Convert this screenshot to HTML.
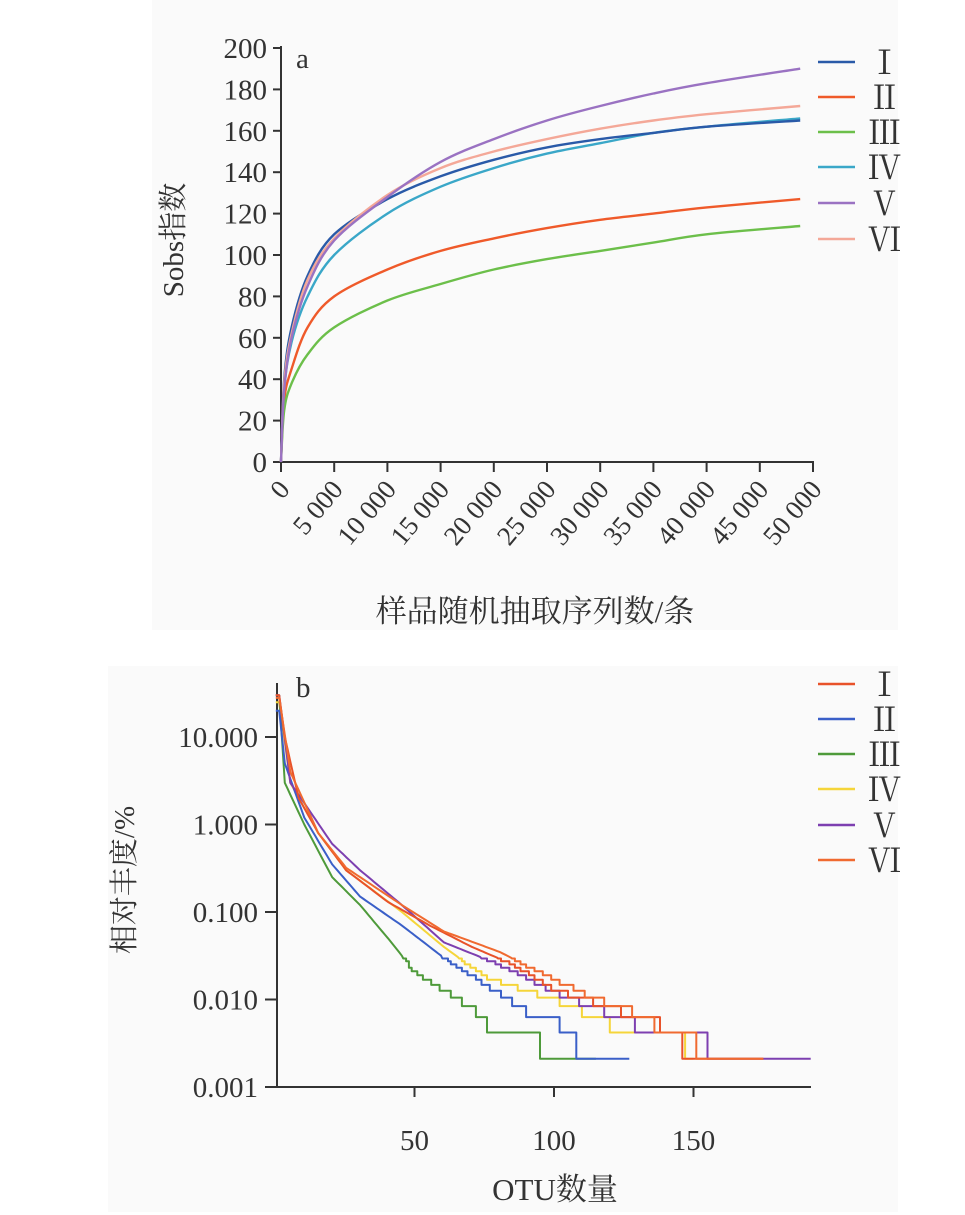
<!DOCTYPE html>
<html><head><meta charset="utf-8"><style>
html,body{margin:0;padding:0;background:#fff;width:965px;height:1215px;overflow:hidden}
svg{display:block}
text{font-family:"Liberation Serif","Noto Serif CJK SC",serif;fill:#333}
</style></head><body>
<svg id="s" width="965" height="1215" xmlns="http://www.w3.org/2000/svg">
<rect x="152" y="0" width="746" height="630" fill="#fafafa"/>
<rect x="108" y="666" width="790" height="546" fill="#fafafa"/>
<g id="a"></g><g id="b"></g>
</svg>
<script>
var NS="http://www.w3.org/2000/svg";
function el(p,t,a,txt){var e=document.createElementNS(NS,t);for(var k in a)e.setAttribute(k,a[k]);if(txt!==undefined)e.textContent=txt;p.appendChild(e);return e;}
var A=document.getElementById('a'),B=document.getElementById('b');
var ax0=281,ay0=462;function AX(x){return ax0+x/50000*532}function AY(v){return ay0-v/200*414}
el(A,'line',{x1:ax0,y1:46,x2:ax0,y2:ay0,stroke:'#333','stroke-width':2});
el(A,'line',{x1:ax0-1,y1:ay0,x2:814,y2:ay0,stroke:'#333','stroke-width':2});
for(var v=0;v<=200;v+=20){var y=AY(v);el(A,'line',{x1:ax0-8,y1:y,x2:ax0,y2:y,stroke:'#333','stroke-width':2});el(A,'text',{x:ax0-14,y:y+10,'text-anchor':'end','font-size':29},v);}
for(var i=0;i<=10;i++){var x=AX(i*5000);el(A,'line',{x1:x,y1:ay0,x2:x,y2:ay0+10,stroke:'#333','stroke-width':2});
var lab=i==0?'0':(i*5)+' 000';el(A,'text',{x:x+10,y:ay0+28,'text-anchor':'end','font-size':27,transform:'rotate(-50 '+(x+10)+' '+(ay0+28)+')'},lab);}
el(A,'text',{x:296,y:68,'font-size':29},'a');
el(A,'text',{x:183,y:240,'text-anchor':'middle','font-size':29,transform:'rotate(-90 183 240)'},'Sobs指数');
el(A,'text',{x:535,y:622,'text-anchor':'middle','font-size':31},'样品随机抽取序列数/条');
var xs=[0,300,1000,2500,5000,10000,15000,20000,25000,30000,35000,40000,48800];
var sa=[
['#2a5aa8',[0,40,65,90,110,127,138,146,152,156,159,162,165]],
['#ef5a2a',[0,30,45,65,80,93,102,108,113,117,120,123,127]],
['#6cbf4a',[0,25,38,52,65,78,86,93,98,102,106,110,114]],
['#3aa7c8',[0,35,58,80,100,120,133,142,149,154,159,162,166]],
['#9a72c2',[0,35,60,85,107,128,145,156,165,172,178,183,190]],
['#f4a898',[0,38,62,88,108,129,142,150,156,161,165,168,172]]];
var order=[3,1,2,0,5,4];
order.forEach(function(k){var s=sa[k];var P=xs.map(function(x,i){return [AX(x),AY(s[1][i])];});
var d='M'+P[0][0]+','+P[0][1];
for(var i=0;i<P.length-1;i++){var p0=P[Math.max(0,i-1)],p1=P[i],p2=P[i+1],p3=P[Math.min(P.length-1,i+2)];
var c1=[p1[0]+(p2[0]-p0[0])/6,p1[1]+(p2[1]-p0[1])/6],c2=[p2[0]-(p3[0]-p1[0])/6,p2[1]-(p3[1]-p1[1])/6];
d+='C'+c1[0].toFixed(1)+','+c1[1].toFixed(1)+' '+c2[0].toFixed(1)+','+c2[1].toFixed(1)+' '+p2[0].toFixed(1)+','+p2[1].toFixed(1);}
el(A,'path',{d:d,fill:'none',stroke:s[0],'stroke-width':2.4});});
var ly=[62,97,132,167,203,239],rom=['Ⅰ','Ⅱ','Ⅲ','Ⅳ','Ⅴ','Ⅵ'];
sa.forEach(function(s,i){el(A,'line',{x1:818,y1:ly[i],x2:855,y2:ly[i],stroke:s[0],'stroke-width':2.5});el(A,'text',{x:868,y:ly[i]+12,'font-size':33},rom[i]);});
var bx0=275;function BX(r){return bx0+r*2.79}function BY(v){return 1087-(Math.log10(v)+3)*87.5}
el(B,'line',{x1:277,y1:683,x2:277,y2:1087,stroke:'#333','stroke-width':2});
el(B,'line',{x1:265,y1:1087,x2:811,y2:1087,stroke:'#333','stroke-width':2});
var yl=['0.001','0.010','0.100','1.000','10.000'];
for(var i=0;i<5;i++){var y=1087-i*87.5;el(B,'line',{x1:265,y1:y,x2:277,y2:y,stroke:'#333','stroke-width':2});el(B,'text',{x:258,y:y+10,'text-anchor':'end','font-size':29},yl[i]);}
[50,100,150].forEach(function(r){var x=BX(r);el(B,'line',{x1:x,y1:1087,x2:x,y2:1097,stroke:'#333','stroke-width':2});el(B,'text',{x:x,y:1150,'text-anchor':'middle','font-size':29},r);});
el(B,'text',{x:296,y:697,'font-size':29},'b');
el(B,'text',{x:134,y:880,'text-anchor':'middle','font-size':29,transform:'rotate(-90 134 880)'},'相对丰度/%');
el(B,'text',{x:555,y:1200,'text-anchor':'middle','font-size':31},'OTU数量');
var sb=[
['#e8522a',[[1,30],[3,10],[8,2],[15,0.8],[25,0.3],[40,0.13],[55,0.07],[70,0.04],[85,0.025],[100,0.013],[120,0.008],[139,0.005],[152,0.0021],[175,0.0021]]],
['#3a5fc8',[[1,20],[3,5],[10,1.2],[20,0.35],[30,0.15],[45,0.07],[60,0.03],[75,0.015],[90,0.007],[107,0.0045],[108,0.0021],[127,0.0021]]],
['#4e9a3a',[[1,30],[3,3],[10,1],[20,0.25],[30,0.12],[40,0.05],[50,0.02],[60,0.013],[70,0.008],[77,0.0045],[94,0.0042],[95,0.0021],[115,0.0021]]],
['#f5d53a',[[1,25],[5,3],[15,0.8],[25,0.3],[45,0.1],[60,0.04],[75,0.018],[100,0.01],[115,0.006],[125,0.0045],[146,0.0042],[147,0.0021],[150,0.0021]]],
['#7d3fb0',[[1,30],[5,3],[20,0.6],[30,0.3],[45,0.12],[60,0.045],[80,0.025],[100,0.012],[115,0.008],[133,0.0045],[154,0.0042],[155,0.0021],[192,0.0021]]],
['#f06a30',[[1,28],[5,4],[15,0.8],[25,0.32],[45,0.12],[60,0.06],[80,0.035],[95,0.02],[115,0.01],[125,0.008],[137,0.005],[150,0.0042],[151,0.0021],[175,0.0021]]]];
function val(p,r){var j=0;while(j<p.length-2&&r>p[j+1][0])j++;var t=(r-p[j][0])/(p[j+1][0]-p[j][0]);if(t<0)t=0;if(t>1)t=1;var lv=Math.log10(p[j][1])+(Math.log10(p[j+1][1])-Math.log10(p[j][1]))*t;var v=Math.pow(10,lv);var q=false;if(v<0.03){v=Math.max(1,Math.round(v/0.0021))*0.0021;q=true;}return [v,q];}
[3,2,1,4,0,5].forEach(function(k){var s=sb[k],p=s[1],N=p[p.length-1][0];var d='M'+BX(0.3).toFixed(1)+','+BY(p[0][1]).toFixed(1);
for(var r=1;r<N;r++){var o=val(p,r),y=BY(o[0]).toFixed(1);if(o[1])d+='L'+BX(r).toFixed(1)+','+y+'L'+BX(r+1).toFixed(1)+','+y;else d+='L'+BX(r+0.5).toFixed(1)+','+y;}
el(B,'path',{d:d,fill:'none',stroke:s[0],'stroke-width':2,'stroke-linejoin':'round'});});
var lyb=[684,719,754,789,825,860];
sb.forEach(function(s,i){el(B,'line',{x1:818,y1:lyb[i],x2:855,y2:lyb[i],stroke:s[0],'stroke-width':2.5});el(B,'text',{x:868,y:lyb[i]+12,'font-size':33},rom[i]);});
</script>
</body></html>
